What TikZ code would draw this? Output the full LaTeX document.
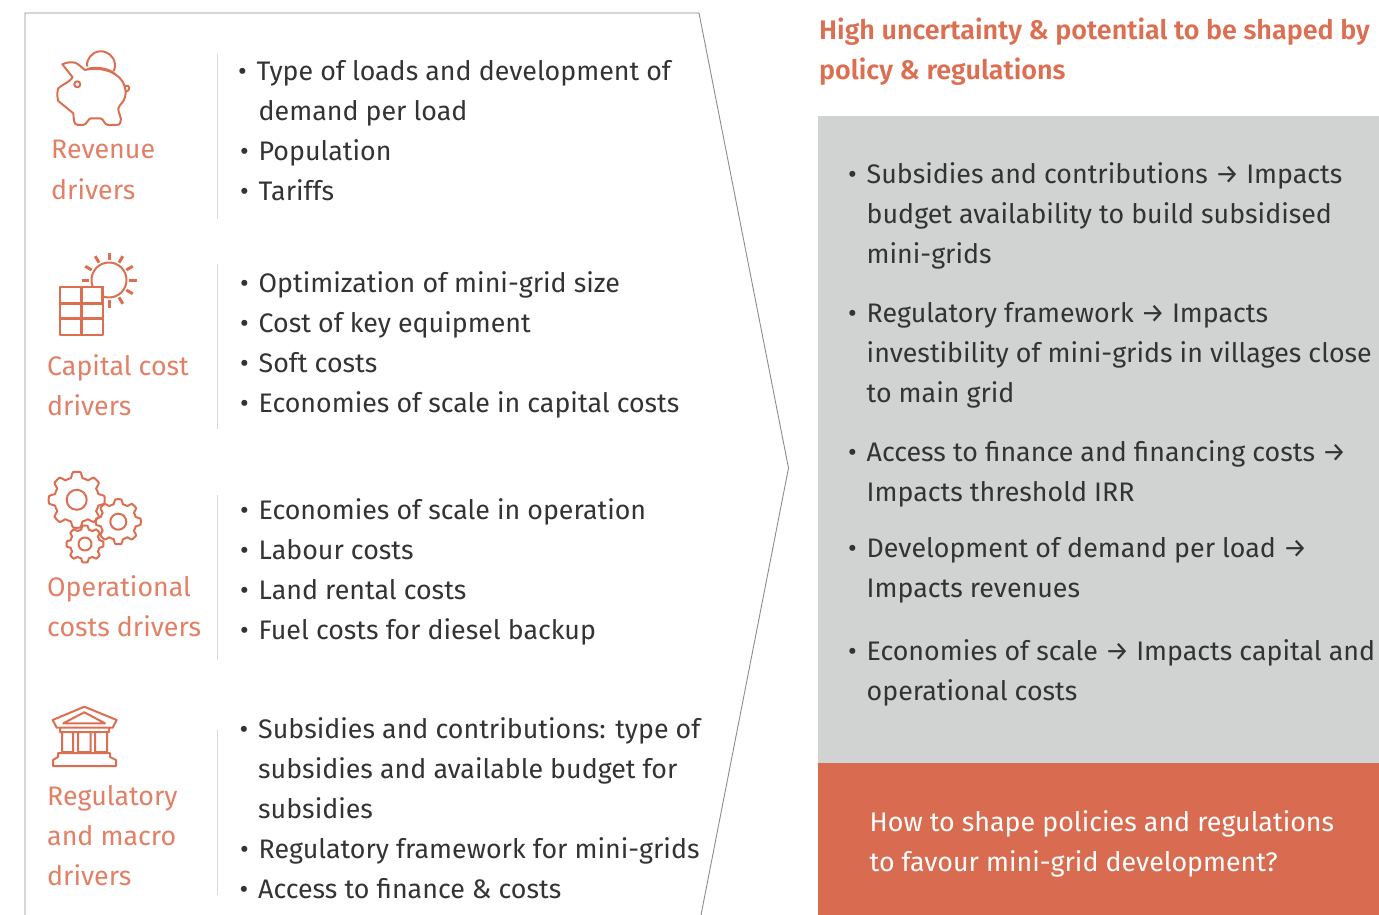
\documentclass[tikz,border=0pt]{standalone}
\usepackage{fontspec}
\setmainfont[BoldFont={Fira Sans SemiBold}]{Fira Sans}
\definecolor{rust}{HTML}{DC6F52}
\definecolor{rustlight}{HTML}{E27F65}
\definecolor{rustbox}{HTML}{D96C50}
\definecolor{greybox}{HTML}{D1D3D2}
\definecolor{inktext}{HTML}{333333}
\tikzset{
    bodytext/.style={anchor=base west,inner sep=0pt,text=inktext,font=\fontsize{26.8}{40}\selectfont},
    labeltext/.style={bodytext,text=rustlight},
    titletext/.style={bodytext,text=rust,font=\fontsize{26.9}{40}\selectfont\bfseries},
    icon/.style={draw=rust,line width=2pt,line join=round},
    divider/.style={draw=black!15,line width=1.2pt}
}
\newcommand{\bul}{\llap{\textbullet\hspace{10pt}}}
\newcommand{\gearicon}[5]{% x, y, radius, teeth, hole
    \draw[icon,shift={(#1,#2)}] plot[domain=0:360,samples=145,variable=\a,smooth]
        ({#3*(0.9+0.1*max(-1,min(1,2.2*cos(#4*\a))))*cos(\a)},
         {#3*(0.9+0.1*max(-1,min(1,2.2*cos(#4*\a))))*sin(\a)}) -- cycle
        (0,0) circle (#5);
}
\begin{document}
\begin{tikzpicture}[x=1pt,y=-1pt]
\useasboundingbox (0,0) rectangle (1379,915);

\coordinate (panelbl) at (25,915);
\coordinate (paneltl) at (25,13);
\coordinate (paneltr) at (699,13);
\coordinate (paneltip) at (788.5,468);
\coordinate (panelbr) at (701,915);
\draw[draw=black!45,line width=0.9pt] (panelbl) -- (paneltl) -- (paneltr) -- (paneltip) -- (panelbr);

\fill[greybox] (818,116) rectangle (1379,763);
\fill[rustbox] (818,763) rectangle (1379,915);

\foreach \ya/\yb in {54/219,264/429,495/660,730/895}
    \draw[divider] (217.5,\ya) -- (217.5,\yb);

% revenue icon
\draw[icon] (62.3,64.3) .. controls (67,62) and (72,62) .. (75,62.7)
    .. controls (79,64) and (82,68) .. (85,70)
    .. controls (100,66) and (122,72) .. (125,88)
    .. controls (126,92) and (126,94) .. (125,97)
    .. controls (124,102) and (120,104) .. (118.3,108.3)
    .. controls (118,113) and (122,118) .. (120.7,121)
    .. controls (120,125) and (118,125) .. (116,125) -- (108,125)
    .. controls (104,125) and (104,118.3) .. (100,118.3) -- (91,118.3)
    .. controls (88,118.3) and (87,125) .. (83,125) -- (78,125)
    .. controls (73,125) and (74,118) .. (73.3,113.3)
    -- (58.3,101) .. controls (57,97) and (57,92) .. (58.3,88.3)
    .. controls (63,84) and (70,82) .. (72.7,77.3) -- cycle;
\draw[icon] (77.3,84.3) circle (3);
\draw[icon] (87,66.5) arc[start angle=175,end angle=385,radius=14];
\draw[icon] (87,69) .. controls (97,66) and (110,69) .. (115,74);
\draw[icon] (125,86) .. controls (130,84) and (131,90) .. (126,92);

% capital cost icon
\draw[icon] (109,280) circle (17.5);
\foreach \ang in {0,30,...,330}
    \draw[draw=rust,line width=3pt] (109,280) ++(\ang:20) -- ++(\ang:7.5);
\fill[white] (60,287.3) rectangle (102.7,335);
\draw[icon] (60,287.3) rectangle (102.7,335);
\draw[draw=rust,line width=3pt] (81.7,287.3) -- (81.7,335)
    (60,303.3) -- (102.7,303.3)
    (60,318.3) -- (102.7,318.3)
    (102.7,286) -- (102.7,305);

% operational icon
\gearicon{76.7}{499.8}{28}{8}{10}
\gearicon{118.3}{521.7}{22.5}{8}{8}
\gearicon{85}{544}{18.5}{8}{6.5}

% regulatory icon
\draw[icon] (84.3,706.7) -- (116.7,720) -- (112.7,727.7) -- (56.7,727.7) -- (52.7,720) -- cycle
    (84.3,712.3) -- (105,723.3) -- (63.3,723.3) -- cycle
    (60,728) -- (60,732) -- (109,732) -- (109,728)
    (62,732) rectangle (73,752)
    (78,732) rectangle (90.5,752)
    (95,732) rectangle (107,752)
    (58,753) -- (110,753) -- (110,757) -- (116,760) -- (116,766) -- (53,766) -- (53,760) -- (58,757) -- cycle;

% labels
\foreach \x/\y/\t in {51/159/Revenue,51/200/drivers,47/375/Capital cost,47/415/drivers,
    47/596/Operational,47/636/costs drivers,47/805/Regulatory,47/845/and macro,47/885/drivers}
    \node[labeltext] (label\y) at (\x,\y) {\t};

% left column
\foreach \x/\y/\t in {256.5/81/\bul Type of loads and development of,258.5/121/demand per load,258.5/160.6/\bul Population,
    258.5/200.6/\bul Tariffs,258.5/292/\bul Optimization of mini-grid size,258.5/332/\bul Cost of key equipment,
    258.5/372/\bul Soft costs,258.5/412/\bul Economies of scale in capital costs,
    258.5/519/\bul Economies of scale in operation,258.5/559/\bul Labour costs,258.5/599/\bul Land rental costs,
    258.5/639/\bul Fuel costs for diesel backup,258/738/\bul Subsidies and contributions: type of,
    258/778/subsidies and available budget for,258/818/subsidies,258.5/858/\bul Regulatory framework for mini-grids,
    258/898/\bul Access to finance \& costs}
    \node[bodytext] (left\y) at (\x,\y) {\t};

% right column
\node[titletext] (title1) at (819,40) {High uncertainty \& potential to be shaped by};
\node[titletext] (title2) at (819,80) {policy \& regulations};
\foreach \y/\t in {183/\bul Subsidies and contributions → Impacts,223/budget availability to build subsidised,263/mini-grids,
    322/\bul Regulatory framework → Impacts,362/investibility of mini-grids in villages close,402/to main grid,
    461/\bul Access to finance and financing costs →,501/Impacts threshold IRR,
    557/\bul Development of demand per load →,597/Impacts revenues,
    660/\bul Economies of scale → Impacts capital and,700/operational costs}
    \node[bodytext] (right\y) at (866.5,\y) {\t};

\node[bodytext,text=white] (question1) at (869.5,831) {How to shape policies and regulations};
\node[bodytext,text=white] (question2) at (869.5,871) {to favour mini-grid development?};
\end{tikzpicture}
\end{document}
